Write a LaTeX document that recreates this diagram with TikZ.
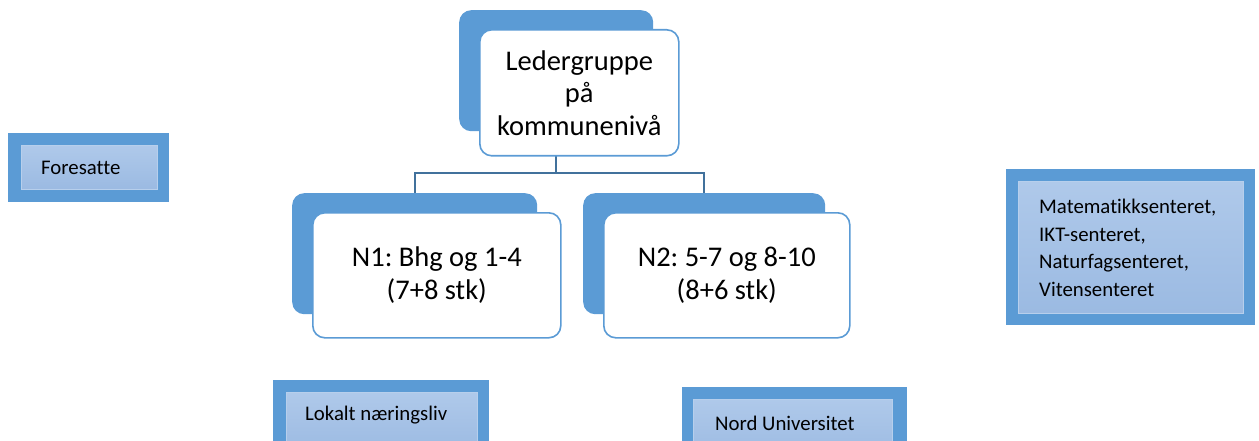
\documentclass[tikz,border=0pt]{standalone}
\usepackage{fontspec}
\setmainfont{Carlito}[Ligatures={NoCommon}]
\frenchspacing
\definecolor{accent}{HTML}{5B9BD5}
\definecolor{linec}{HTML}{41719C}
\definecolor{innertop}{HTML}{AFC9EA}
\definecolor{innerbot}{HTML}{9BBAE2}
\definecolor{inneredge}{HTML}{B7CFEC}
\begin{document}
\begin{tikzpicture}[x=1pt,y=-1pt,
  shadowbox/.style={fill=accent, rounded corners=12pt, inner sep=0pt, anchor=north west},
  frontbox/.style={fill=white, draw=accent, line width=1.6pt, rounded corners=12pt, inner sep=0pt,
    anchor=north west, align=center, font=\fontsize{28.5}{32.5}\selectfont},
  outerbox/.style={fill=accent, inner sep=0pt, anchor=north west},
  innerbox/.style={top color=innertop, bottom color=innerbot, draw=inneredge, line width=0.6pt,
    inner sep=0pt, anchor=north west},
  smalltext/.style={anchor=west, inner sep=0pt, align=left, font=\fontsize{20.8}{27.7}\selectfont},
  bus/.style={draw=linec, line width=2pt}]
\useasboundingbox (0,0) rectangle (1259,441);
% top
\node[shadowbox, minimum width=194pt, minimum height=121pt] (ls) at (459,10) {};
\node[shadowbox, minimum width=245pt, minimum height=121pt] (s1) at (292,193) {};
\node[shadowbox, minimum width=242pt, minimum height=121pt] (s2) at (583,193) {};
\coordinate (busy) at (0,173);
\draw[bus] (ls.south) -- (ls.south |- busy);
\draw[bus] (s1.north) -- (s1.north |- busy) -- (s2.north |- busy) -- (s2.north);
\node[frontbox, minimum width=199pt, minimum height=126pt] (lf) at (479,29) {Ledergruppe\\på\\kommunenivå};
\node[frontbox, minimum width=248pt, minimum height=125pt] (f1) at (312,212) {N1: Bhg og 1-4\\(7+8 stk)};
\node[frontbox, minimum width=246pt, minimum height=125pt] (f2) at (603,212) {N2: 5-7 og 8-10\\(8+6 stk)};
% Foresatte
\node[outerbox, minimum width=161pt, minimum height=69pt] (fo) at (8,133) {};
\node[innerbox, minimum width=136pt, minimum height=44pt] (fi) at (21,145) {};
\node[smalltext] (ft) at (41,168) {Foresatte};
% Sentrene
\node[outerbox, minimum width=249pt, minimum height=156pt] (mo) at (1006,169) {};
\node[innerbox, minimum width=225pt, minimum height=132pt] (mi) at (1018,181) {};
\node[smalltext] (mt) at (1039,248) {Matematikksenteret,\\IKT-senteret,\\Naturfagsenteret,\\Vitensenteret};
% Lokalt naeringsliv
\node[outerbox, minimum width=216pt, minimum height=85pt] (lo) at (273,380) {};
\node[innerbox, minimum width=191pt, minimum height=61pt] (li) at (286,392) {};
\node[smalltext] (lt) at (305,415) {Lokalt næringsliv};
% Nord Universitet
\node[outerbox, minimum width=225pt, minimum height=85pt] (no) at (682,387) {};
\node[innerbox, minimum width=199pt, minimum height=61pt] (ni) at (693,399) {};
\node[smalltext] (nt) at (715,423) {Nord Universitet};
\end{tikzpicture}
\end{document}
